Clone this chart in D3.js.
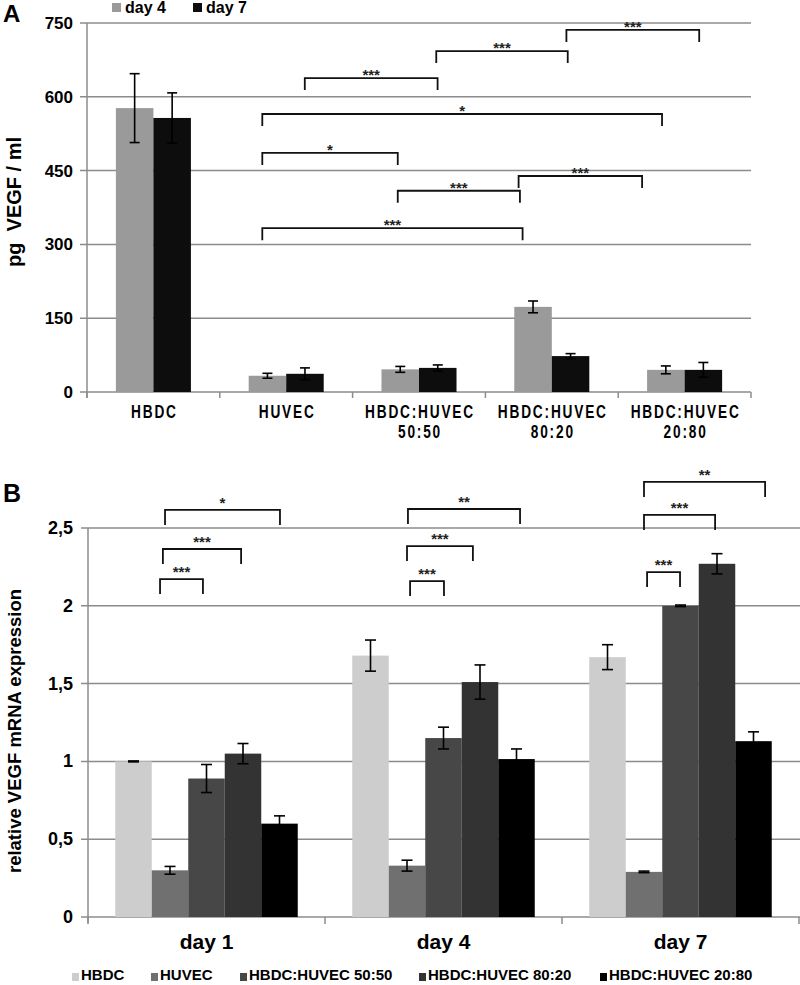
<!DOCTYPE html>
<html>
<head>
<meta charset="utf-8">
<script src="https://cdn.jsdelivr.net/npm/d3@7"></script>
<style>
  body { margin: 0; background: #fff; }
  text { font-family: "Liberation Sans", Arial, sans-serif; font-weight: bold; }
</style>
</head>
<body>
<script>
// ---- panel A data (pg VEGF / ml) ----
const cellsA = ["HBDC", "HUVEC", "HBDC:HUVEC 50:50", "HBDC:HUVEC 80:20", "HBDC:HUVEC 20:80"];
const daysA = ["day 4", "day 7"];
const day4 = [577, 33, 46, 173, 45];
const day4Err = [70, 5, 6, 12, 8];
const day7 = [557, 37, 49, 73, 45];
const day7Err = [51, 12, 6, 5, 15];
const ticksA = [0, 150, 300, 450, 600, 750];
// brackets: [from, to] in category units, y in pg/ml, label
const bracketsA = [
    [1.64, 2.64, 638, "***"],
    [2.63, 3.62, 693, "***"],
    [3.61, 4.61, 736, "***"],
    [1.32, 4.33, 565, "*"],
    [1.32, 2.34, 486, "*"],
    [2.34, 3.26, 409, "***"],
    [3.25, 4.18, 439, "***"],
    [1.32, 3.28, 333, "***"]
];

// ---- panel B data (relative VEGF mRNA expression) ----
const daysB = ["day 1", "day 4", "day 7"];
const seriesB = ["HBDC", "HUVEC", "HBDC:HUVEC 50:50", "HBDC:HUVEC 80:20", "HBDC:HUVEC 20:80"];
const hbdc = [1.0, 1.68, 1.67];
const hbdcErr = [0.003, 0.1, 0.08];
const huvec = [0.30, 0.33, 0.29];
const huvecErr = [0.025, 0.035, 0.005];
const mix5050 = [0.89, 1.15, 2.0];
const mix5050Err = [0.09, 0.07, 0.005];
const mix8020 = [1.05, 1.51, 2.27];
const mix8020Err = [0.065, 0.11, 0.065];
const mix2080 = [0.60, 1.015, 1.13];
const mix2080Err = [0.05, 0.065, 0.06];
const ticksB = [0, 0.5, 1, 1.5, 2, 2.5];
const tickLabelsB = ["0", "0,5", "1", "1,5", "2", "2,5"];
const bracketsB = [
    [0.325, 0.81, 2.616, "*"],
    [0.316, 0.646, 2.365, "***"],
    [0.304, 0.485, 2.172, "***"],
    [1.35, 1.823, 2.622, "**"],
    [1.346, 1.624, 2.384, "***"],
    [1.359, 1.502, 2.159, "***"],
    [2.346, 2.857, 2.796, "**"],
    [2.346, 2.646, 2.584, "***"],
    [2.359, 2.498, 2.217, "***"]
];

const gridColor = "#8c8c8c";
const colorsA = ["#9a9a9a", "#0d0d0d"];
const colorsB = ["#cdcdcd", "#707070", "#474747", "#333333", "#000000"];

const svg = d3.select("body").append("svg")
    .attr("width", 800)
    .attr("height", 985);

// ================= Panel A =================
const gA = svg.append("g").attr("class", "panelA");
const xA = d3.scaleBand().domain(cellsA).range([87, 751]).paddingInner(0.435).paddingOuter(0.2175);
const xA1 = d3.scaleBand().domain(daysA).range([0, xA.bandwidth()]);
const posA = d3.scaleLinear().domain([0, cellsA.length]).range([87, 751]);
const yA = d3.scaleLinear().domain([0, 750]).range([392, 23]);

gA.append("g").selectAll("line")
    .data(ticksA)
    .enter().append("line")
    .attr("x1", 80).attr("x2", 751)
    .attr("y1", d => yA(d)).attr("y2", d => yA(d))
    .attr("stroke", gridColor)
    .attr("stroke-width", 1.5);

gA.append("line")
    .attr("x1", 87).attr("x2", 87)
    .attr("y1", yA(750)).attr("y2", yA(0) + 6)
    .attr("stroke", gridColor).attr("stroke-width", 1.5);

gA.append("g").selectAll("line")
    .data(d3.range(cellsA.length + 1))
    .enter().append("line")
    .attr("x1", d => posA(d)).attr("x2", d => posA(d))
    .attr("y1", yA(0)).attr("y2", yA(0) + 6)
    .attr("stroke", gridColor).attr("stroke-width", 1.5);

gA.append("g").selectAll("text")
    .data(ticksA)
    .enter().append("text")
    .attr("x", 73)
    .attr("y", d => yA(d) + 6)
    .attr("text-anchor", "end")
    .style("font-size", "17px")
    .text(d => d);

const rowsA = cellsA.map((c, i) => ({
    cell: c,
    vals: [
        {day: "day 4", v: day4[i], e: day4Err[i]},
        {day: "day 7", v: day7[i], e: day7Err[i]}
    ]
}));

const groupsA = gA.append("g").selectAll("g")
    .data(rowsA)
    .enter().append("g")
    .attr("transform", d => `translate(${xA(d.cell)},0)`);

groupsA.selectAll("rect")
    .data(d => d.vals)
    .enter().append("rect")
    .attr("x", d => xA1(d.day))
    .attr("width", xA1.bandwidth())
    .attr("y", d => yA(d.v))
    .attr("height", d => yA(0) - yA(d.v))
    .attr("fill", (d, i) => colorsA[i]);

function errorBars(sel, xs, ys, w, cap) {
    sel.append("line")
        .attr("x1", d => xs(d) + w / 2).attr("x2", d => xs(d) + w / 2)
        .attr("y1", d => ys(d.v + d.e)).attr("y2", d => ys(d.v - d.e));
    sel.append("line")
        .attr("x1", d => xs(d) + w / 2 - cap).attr("x2", d => xs(d) + w / 2 + cap)
        .attr("y1", d => ys(d.v + d.e)).attr("y2", d => ys(d.v + d.e));
    sel.append("line")
        .attr("x1", d => xs(d) + w / 2 - cap).attr("x2", d => xs(d) + w / 2 + cap)
        .attr("y1", d => ys(d.v - d.e)).attr("y2", d => ys(d.v - d.e));
    sel.selectAll("line").attr("stroke", "#000").attr("stroke-width", 1.6);
}

groupsA.selectAll("g.err")
    .data(d => d.vals)
    .enter().append("g")
    .attr("class", "err")
    .call(errorBars, d => xA1(d.day), yA, xA1.bandwidth(), 5);

// x labels, slightly narrow glyphs as in the original
const xlabA = gA.append("g").selectAll("g")
    .data(cellsA)
    .enter().append("g")
    .attr("transform", (d, i) => `translate(${posA(i + 0.5) + 1},418) scale(0.72,1)`);
xlabA.each(function (d) {
    const parts = d.split(" ");
    d3.select(this).selectAll("text")
        .data(parts)
        .enter().append("text")
        .attr("x", 0)
        .attr("y", (p, j) => j * 20)
        .attr("text-anchor", "middle")
        .style("font-size", "19px")
        .style("letter-spacing", "2.5px")
        .text(p => p);
});

gA.append("text")
    .attr("transform", "translate(21,202) rotate(-90)")
    .attr("text-anchor", "middle")
    .style("font-size", "20px")
    .style("white-space", "pre")
    .text("pg  VEGF / ml");

gA.append("text")
    .attr("x", 3).attr("y", 22)
    .style("font-size", "24px")
    .text("A");

// legend A
const legA = gA.append("g").selectAll("g")
    .data(daysA)
    .enter().append("g")
    .attr("transform", (d, i) => `translate(${112 + i * 81},0)`);
legA.append("rect")
    .attr("x", 0).attr("y", 3)
    .attr("width", 9).attr("height", 9)
    .attr("fill", (d, i) => colorsA[i]);
legA.append("text")
    .attr("x", 13).attr("y", 13)
    .style("font-size", "16px")
    .text(d => d);

function drawBrackets(g, data, xs, ys, leg, lift) {
    const b = g.append("g").selectAll("g")
        .data(data)
        .enter().append("g");
    b.append("path")
        .attr("d", d => {
            const x1 = xs(d[0]), x2 = xs(d[1]), y = ys(d[2]);
            return `M${x1},${y + leg}V${y}H${x2}V${y + leg}`;
        })
        .attr("fill", "none")
        .attr("stroke", "#111")
        .attr("stroke-width", 1.8);
    b.append("text")
        .attr("x", d => (xs(d[0]) + xs(d[1])) / 2)
        .attr("y", d => ys(d[2]) - lift + 10)
        .attr("text-anchor", "middle")
        .style("font-size", "15px")
        .attr("fill", "#222")
        .text(d => d[3]);
}

drawBrackets(gA, bracketsA, posA, yA, 12, 8);

// ================= Panel B =================
const gB = svg.append("g").attr("class", "panelB");
const xB = d3.scaleBand().domain(daysB).range([88, 799]).paddingInner(0.23).paddingOuter(0.115);
const xB1 = d3.scaleBand().domain(seriesB).range([0, xB.bandwidth()]);
const posB = d3.scaleLinear().domain([0, daysB.length]).range([88, 799]);
const yB = d3.scaleLinear().domain([0, 2.5]).range([917, 528]);

gB.append("g").selectAll("line")
    .data(ticksB)
    .enter().append("line")
    .attr("x1", 81).attr("x2", 800)
    .attr("y1", d => yB(d)).attr("y2", d => yB(d))
    .attr("stroke", gridColor)
    .attr("stroke-width", 1.5);

gB.append("line")
    .attr("x1", 88).attr("x2", 88)
    .attr("y1", yB(2.5)).attr("y2", yB(0) + 6)
    .attr("stroke", gridColor).attr("stroke-width", 1.5);

gB.append("g").selectAll("line")
    .data(d3.range(daysB.length + 1))
    .enter().append("line")
    .attr("x1", d => posB(d)).attr("x2", d => posB(d))
    .attr("y1", yB(0)).attr("y2", yB(0) + 7)
    .attr("stroke", gridColor).attr("stroke-width", 1.5);

gB.append("g").selectAll("text")
    .data(ticksB)
    .enter().append("text")
    .attr("x", 73)
    .attr("y", d => yB(d) + 6)
    .attr("text-anchor", "end")
    .style("font-size", "18px")
    .text((d, i) => tickLabelsB[i]);

const valsB = [hbdc, huvec, mix5050, mix8020, mix2080];
const errsB = [hbdcErr, huvecErr, mix5050Err, mix8020Err, mix2080Err];
const rowsB = daysB.map((day, j) => ({
    day: day,
    vals: seriesB.map((s, k) => ({s: s, k: k, v: valsB[k][j], e: errsB[k][j]}))
}));

const groupsB = gB.append("g").selectAll("g")
    .data(rowsB)
    .enter().append("g")
    .attr("transform", d => `translate(${xB(d.day)},0)`);

groupsB.selectAll("rect")
    .data(d => d.vals)
    .enter().append("rect")
    .attr("x", d => xB1(d.s))
    .attr("width", xB1.bandwidth())
    .attr("y", d => yB(d.v))
    .attr("height", d => yB(0) - yB(d.v))
    .attr("fill", d => colorsB[d.k]);

groupsB.selectAll("g.err")
    .data(d => d.vals)
    .enter().append("g")
    .attr("class", "err")
    .call(errorBars, d => xB1(d.s), yB, xB1.bandwidth(), 5.5);

gB.append("g").selectAll("text")
    .data(daysB)
    .enter().append("text")
    .attr("x", d => xB(d) + xB.bandwidth() / 2)
    .attr("y", 949)
    .attr("text-anchor", "middle")
    .style("font-size", "21px")
    .text(d => d);

gB.append("text")
    .attr("transform", "translate(21,731) rotate(-90)")
    .attr("text-anchor", "middle")
    .style("font-size", "18.5px")
    .text("relative VEGF mRNA expression");

gB.append("text")
    .attr("x", 3).attr("y", 502)
    .style("font-size", "25px")
    .text("B");

drawBrackets(gB, bracketsB, posB, yB, 15, 12);

// legend B
const legBx = [72, 151, 240, 419, 600];
const legB = gB.append("g").selectAll("g")
    .data(seriesB)
    .enter().append("g")
    .attr("transform", (d, i) => `translate(${legBx[i]},0)`);
legB.append("rect")
    .attr("x", 0).attr("y", 973)
    .attr("width", 7).attr("height", 8)
    .attr("fill", (d, i) => colorsB[i]);
legB.append("text")
    .attr("x", 9).attr("y", 980)
    .style("font-size", "15px")
    .text(d => d);
</script>
</body>
</html>
